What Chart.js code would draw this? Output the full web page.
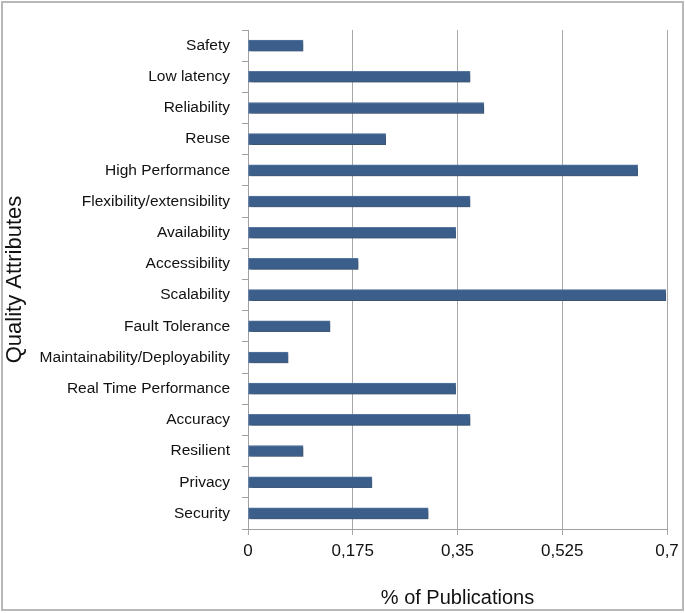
<!DOCTYPE html>
<html>
<head>
<meta charset="utf-8">
<script src="https://cdn.jsdelivr.net/npm/chart.js@4/dist/chart.umd.min.js"></script>
<style>
  html, body { margin: 0; padding: 0; background: #fff; }
  #wrap { width: 685px; height: 613px; }
</style>
</head>
<body>
<div id="wrap"><canvas id="myChart" width="685" height="613"></canvas></div>
<script>
const categories = [
  "Safety", "Low latency", "Reliability", "Reuse", "High Performance",
  "Flexibility/extensibility", "Availability", "Accessibility", "Scalability",
  "Fault Tolerance", "Maintainability/Deployability", "Real Time Performance",
  "Accuracy", "Resilient", "Privacy", "Security"
];
const publications = [
  0.092, 0.371, 0.394, 0.23, 0.651,
  0.371, 0.347, 0.184, 0.698,
  0.137, 0.067, 0.347,
  0.371, 0.092, 0.207, 0.301
];
const xTickLabels = ["0", "0,175", "0,35", "0,525", "0,7"];

const frame = {
  id: "frame",
  beforeDraw(chart) {
    const ctx = chart.ctx;
    ctx.save();
    ctx.fillStyle = "#fff";
    ctx.fillRect(0, 0, chart.width, chart.height);
    ctx.strokeStyle = "#b8b8b8";
    ctx.lineWidth = 2;
    ctx.strokeRect(2, 2, chart.width - 4, chart.height - 5);
    ctx.restore();
  },
  beforeDatasetsDraw(chart) {
    const ctx = chart.ctx;
    ctx.save();
    ctx.shadowColor = "rgba(0,0,0,0.35)";
    ctx.shadowOffsetX = 2;
    ctx.shadowOffsetY = 2;
    ctx.shadowBlur = 3;
  },
  afterDatasetsDraw(chart) {
    chart.ctx.restore();
  }
};

const myChartRef = document.getElementById("myChart").getContext("2d");
new Chart(myChartRef, {
  type: "bar",
  data: {
    labels: categories,
    datasets: [
      {
        label: "% of Publications",
        data: publications,
        backgroundColor: "#3b5e8b",
        borderColor: "#5678a2",
        borderWidth: 1,
        borderSkipped: false,
        barThickness: 11,
      },
    ],
  },
  options: {
    indexAxis: "y",
    responsive: false,
    animation: false,
    layout: { padding: { left: 2, right: 18, top: 30, bottom: 3 } },
    plugins: {
      legend: { display: false },
      tooltip: { enabled: false },
    },
    scales: {
      x: {
        min: 0,
        max: 0.7,
        afterFit: (scale) => { scale.height = 81; },
        afterBuildTicks: (scale) => {
          scale.ticks = [0, 0.175, 0.35, 0.525, 0.7].map((v) => ({ value: v }));
        },
        ticks: {
          color: "#111",
          font: { family: "Liberation Sans, Arial, sans-serif", size: 17 },
          padding: 6,
          maxRotation: 0,
          callback: (v, i) => xTickLabels[i],
        },
        grid: { color: "#a8a8a8", tickLength: 6, lineWidth: 1 },
        border: { color: "#a0a0a0" },
        title: {
          display: true,
          text: "% of Publications",
          color: "#111",
          font: { family: "Liberation Sans, Arial, sans-serif", size: 20 },
          padding: { top: 0, bottom: 0 },
        },
      },
      y: {
        afterFit: (scale) => { scale.width = 246; },
        ticks: {
          color: "#111",
          font: { family: "Liberation Sans, Arial, sans-serif", size: 15.5 },
          padding: 12,
          autoSkip: false,
        },
        grid: { offset: true, drawOnChartArea: false, tickLength: 6, color: "#a0a0a0" },
        border: { color: "#a0a0a0" },
        title: {
          display: true,
          text: "Quality Attributes",
          color: "#111",
          font: { family: "Liberation Sans, Arial, sans-serif", size: 22 },
          padding: { top: 0, bottom: 0 },
        },
      },
    },
  },
  plugins: [frame],
});
</script>
</body>
</html>
